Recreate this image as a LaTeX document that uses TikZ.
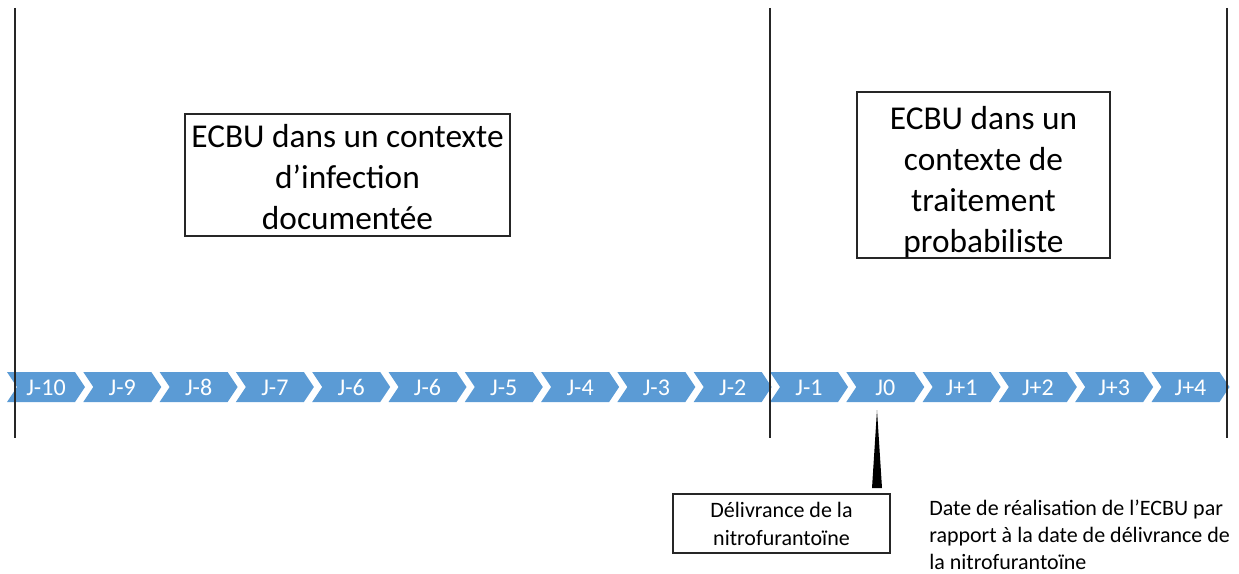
\documentclass[tikz,border=0pt]{standalone}
\usepackage{fontspec}
\setmainfont{Carlito}
\definecolor{chev}{HTML}{5B9BD5}
\begin{document}
\begin{tikzpicture}[x=0.75pt,y=-0.75pt,
  vline/.style={line width=1.2pt,black!85},
  bigbox/.style={draw=black!85,line width=1.1pt,align=center,inner sep=0pt,
    font=\fontsize{25}{30.75}\selectfont},
  smallbox/.style={draw=black!85,line width=1.1pt,align=center,inner sep=0pt,
    font=\fontsize{16.5}{21}\selectfont},
  chevlabel/.style={text=white,font=\fontsize{18}{21}\selectfont,inner sep=0pt},
  note/.style={align=left,inner sep=0pt,font=\fontsize{16.5}{20.25}\selectfont}]
\useasboundingbox (0,0) rectangle (1239,574);
% chevrons
\foreach \lab [count=\i from 0] in {J-10,J-9,J-8,J-7,J-6,J-6,J-5,J-4,J-3,J-2,J-1,J0,J+1,J+2,J+3,J+4}{
  \pgfmathsetmacro{\xo}{7+76.3*\i}
  \fill[chev] (\xo,372) -- ++(68,0) -- ++(10,15) -- ++(-10,15) -- ++(-68,0) -- ++(10,-15) -- cycle;
  \node[chevlabel] (c\i) at (\xo+39,387.5) {\lab};
}
% vertical lines
\coordinate (l1t) at (15,8);   \coordinate (l1b) at (15,438);
\coordinate (l2t) at (770,8);  \coordinate (l2b) at (770,438);
\coordinate (l3t) at (1227,8); \coordinate (l3b) at (1227,438);
\draw[vline] (l1t) -- (l1b);
\draw[vline] (l2t) -- (l2b);
\draw[vline] (l3t) -- (l3b);
% boxes
\node[bigbox,minimum width=243.75pt,minimum height=91.5pt] (b1) at (347.5,175)
  {\rule{0pt}{21pt}ECBU dans un contexte\\d’infection\\documentée};
\node[bigbox,minimum width=189.75pt,minimum height=124.5pt] (b2) at (983.5,175)
  {\rule{0pt}{28pt}ECBU dans un\\contexte de\\traitement\\probabiliste};
\node[smallbox,minimum width=162.75pt,minimum height=44.25pt] (b3) at (781.5,523.5)
  {Délivrance de la\\nitrofurantoïne};
% pointer
\coordinate (ptip) at (877,410);
\fill[black] (ptip) -- (882,488) -- (872,488) -- cycle;
% note
\node[note,anchor=west] (n1) at (929,535)
  {Date de réalisation de l’ECBU par\\rapport à la date de délivrance de\\la nitrofurantoïne};
\end{tikzpicture}
\end{document}
